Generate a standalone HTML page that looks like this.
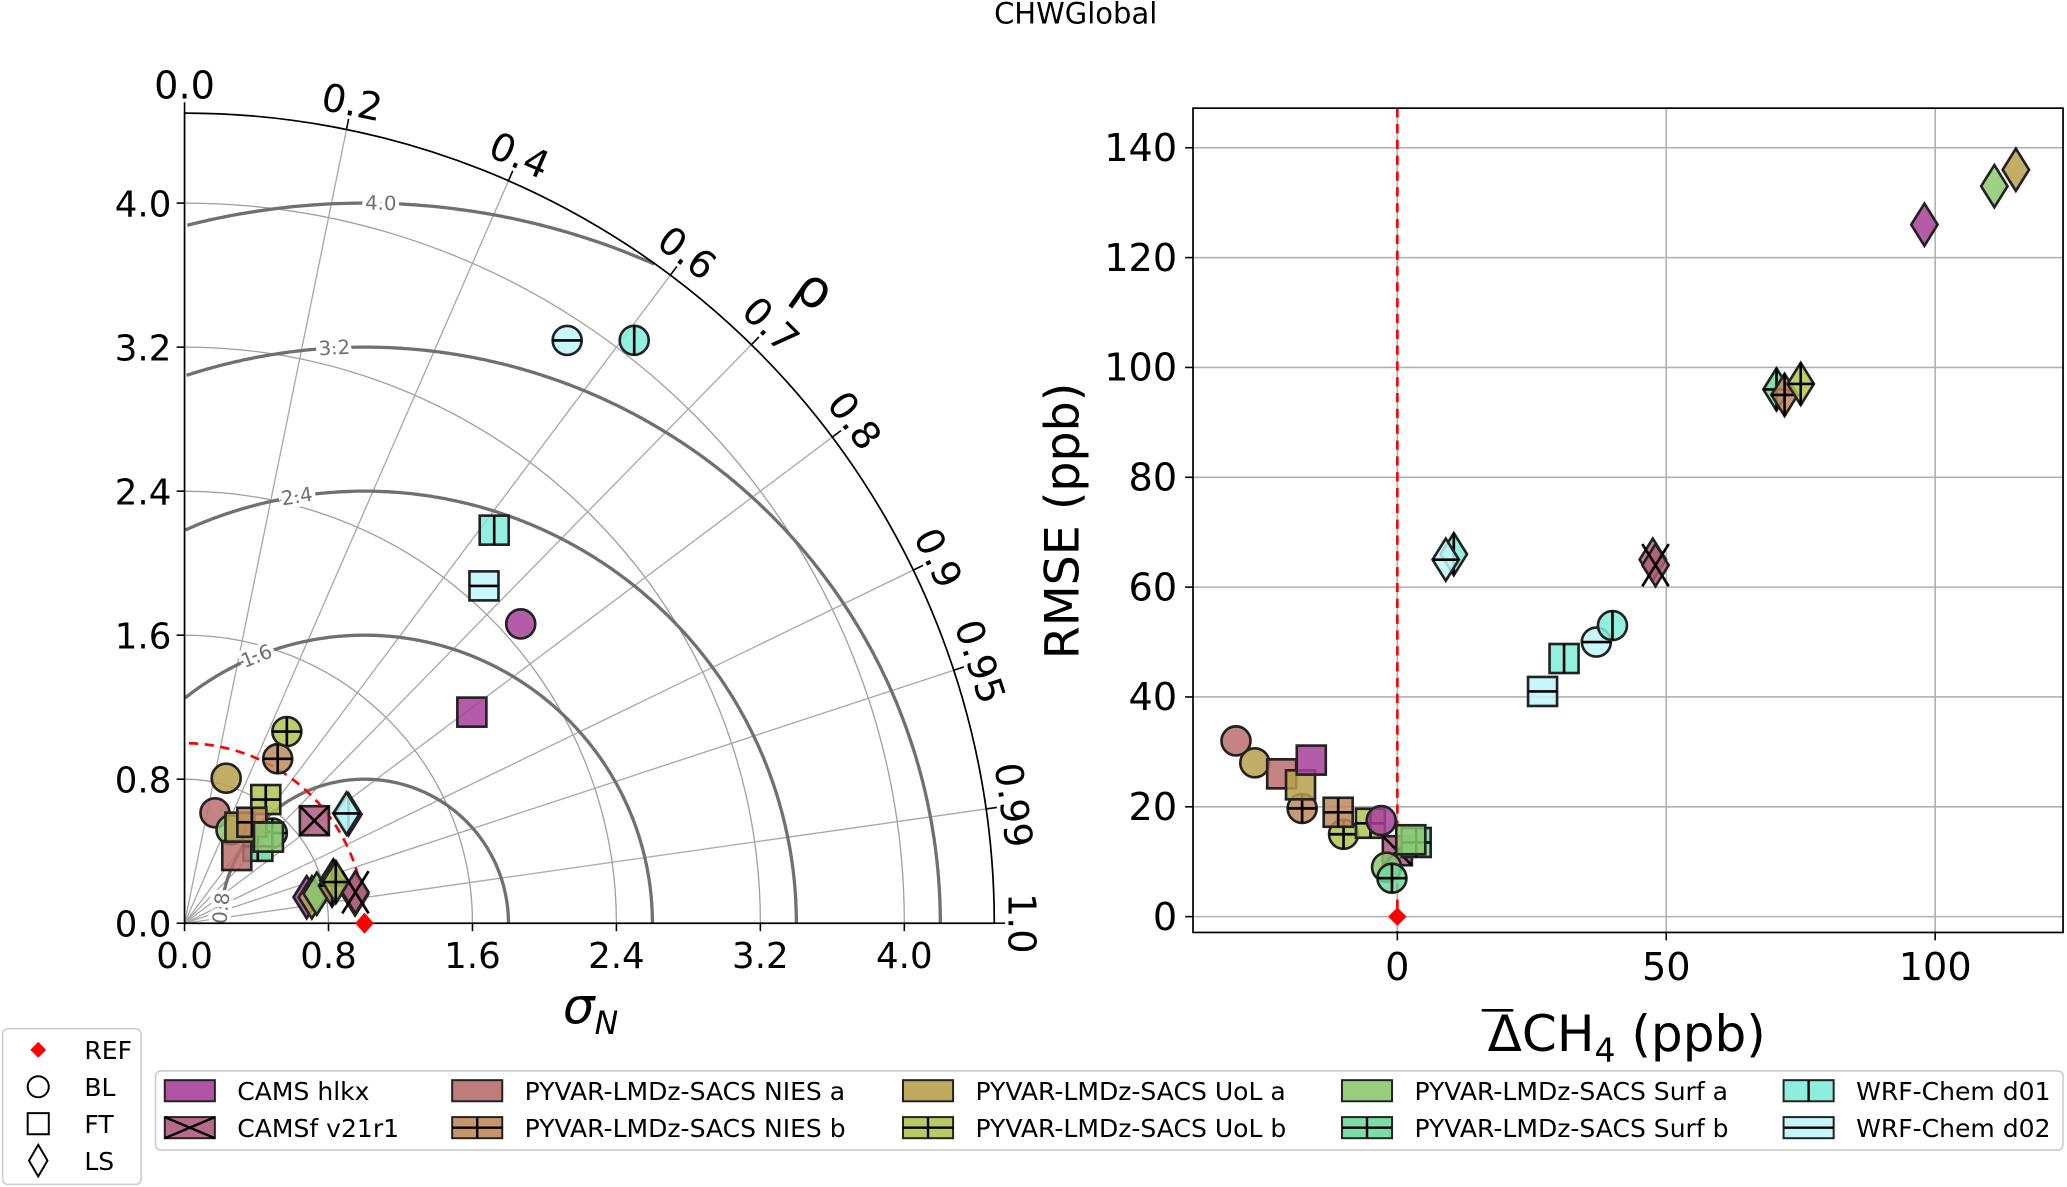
<!DOCTYPE html>
<html><head><meta charset="utf-8"><title>CHWGlobal</title>
<style>
html,body{margin:0;padding:0;background:#fff;}
svg{display:block;font-family:"DejaVu Sans","Liberation Sans",sans-serif;}
</style></head>
<body>
<svg id="fig" width="2067" height="1187" viewBox="0 0 1568 900" preserveAspectRatio="none" xmlns="http://www.w3.org/2000/svg">
<text x="816" y="18" font-size="22" text-anchor="middle">CHWGlobal</text>
<g id="taylor"></g>
<g id="scatter"></g>
<g id="legend"></g>
</svg>
<script>
// ---- data ----
const modelNames = ["CAMS hlkx","CAMSf v21r1","PYVAR-LMDz-SACS NIES a","PYVAR-LMDz-SACS NIES b","PYVAR-LMDz-SACS UoL a","PYVAR-LMDz-SACS UoL b","PYVAR-LMDz-SACS Surf a","PYVAR-LMDz-SACS Surf b","WRF-Chem d01","WRF-Chem d02"];
const modelColors = ["#a8409a","#b05a80","#b86e6c","#c08a5c","#b8a04e","#b0c450","#8dc870","#6ed89c","#80ecd8","#c0f4fa"];
const modelHatch = ["","x","","+","","+","","+","|","-"];
const pointModel = [5,3,4,5,2,1,8,6,7,7,2,4,3,6,0,4,6,7,3,5,2,1,9,9,8,8,9,0,0];
const pointType  = ["BL","BL","BL","FT","BL","FT","LS","BL","BL","FT","FT","FT","FT","FT","LS","LS","LS","LS","LS","LS","LS","LS","LS","BL","BL","FT","FT","BL","FT"];
const sigmaN = [1.207,1.050,0.838,0.822,0.636,0.919,1.093,0.580,0.699,0.590,0.475,0.616,0.674,0.668,0.694,0.722,0.753,0.860,0.846,0.871,0.961,0.965,1.087,3.873,4.090,2.780,2.506,2.501,1.981];
const rhoVals = [0.471,0.493,0.276,0.549,0.266,0.785,0.833,0.445,0.698,0.690,0.611,0.500,0.555,0.698,0.978,0.980,0.976,0.961,0.969,0.965,0.986,0.984,0.828,0.549,0.611,0.619,0.664,0.747,0.806];
const biasVals = [-10,-17.7,-26.5,-5,-30,0,10.5,-2,-1,3.5,-21.5,-18,-11,2.5,98,115,111,70.5,72,75,47.5,48,9,37,40,31,27,-3,-16];
const rmseVals = [15,19.7,28,17,32,12,66,9,7,13.5,26,24,19,14,126,136,133,96,95,97,65,64,65,50,53,47,41,17.5,28.5];
const stdTicks = [0,0.8,1.6,2.4,3.2,4.0];
const corrTicks = [0.0,0.2,0.4,0.6,0.7,0.8,0.9,0.95,0.99,1.0];
const rmsdLevels = [0.8,1.6,2.4,3.2,4.0];
const xTicksR = [0,50,100];
const yTicksR = [0,20,40,60,80,100,120,140];

const NS="http://www.w3.org/2000/svg";
function mk(parent,tag,attrs,txt){const e=document.createElementNS(NS,tag);for(const k in attrs)e.setAttribute(k,attrs[k]);if(txt!==undefined)e.textContent=txt;parent.appendChild(e);return e;}

const OX=140, OY=700, PU=136.5, RMAX=4.5;
const tX=(x)=>OX+x*PU, tY=(y)=>OY-y*PU;
const T=document.getElementById('taylor');

stdTicks.slice(1).forEach(s=>{
  const p=mk(T,'path',{d:`M${tX(s)},${OY} A${s*PU},${s*PU} 0 0 0 ${OX},${tY(s)}`,fill:'none',stroke:'#a0a0a0','stroke-width':1});
  
  
});
corrTicks.forEach(c=>{
  const th=Math.acos(c);
  const ex=Math.cos(th)*RMAX, ey=Math.sin(th)*RMAX;
  if(c>0&&c<1){
    const l=mk(T,'line',{x1:OX,y1:OY,x2:tX(ex),y2:tY(ey),stroke:'#a8a8a8','stroke-width':1});
    
    
  }
  const tk=mk(T,'line',{x1:tX(ex),y1:tY(ey),x2:tX(Math.cos(th)*(RMAX+0.06)),y2:tY(Math.sin(th)*(RMAX+0.06)),stroke:'#000','stroke-width':1.2});
  
  
  const rl=RMAX+0.08;
  const lx=tX(Math.cos(th)*rl), ly=tY(Math.sin(th)*rl);
  const rot=90-th*180/Math.PI;
  const t=mk(T,'text',{x:lx,y:ly,'font-size':29,'text-anchor':'middle','transform':`rotate(${rot} ${lx} ${ly})`},String(c.toFixed(c===0.95||c===0.99?2:1)));
  
  
});
rmsdLevels.forEach((r,i)=>{
  let d='',pen=false;
  for(let k=0;k<=720;k++){
    const a=Math.PI*k/720;
    const x=1+r*Math.cos(a), y=r*Math.sin(a);
    const ok = x>=0 && Math.hypot(x,y)<=RMAX;
    if(ok){d+=(pen?'L':'M')+tX(x).toFixed(1)+','+tY(y).toFixed(1);pen=true;} else pen=false;
  }
  const p=mk(T,'path',{d:d,fill:'none',stroke:'#707070','stroke-width':2.5});
  
  
  const angs=[174,112,99,93,88.7];
  const a=angs[i]*Math.PI/180;
  const lx=tX(1+r*Math.cos(a)), ly=tY(r*Math.sin(a));
  const rot=-(angs[i]-90);
  const t=mk(T,'text',{x:lx,y:ly+5,'font-size':15,fill:'#707070','text-anchor':'middle',stroke:'#fff','stroke-width':6,'paint-order':'stroke','transform':`rotate(${rot} ${lx} ${ly})`},r.toFixed(1));
  
  
});
const ra=mk(T,'path',{d:`M${tX(1)},${OY} A${PU},${PU} 0 0 0 ${OX},${tY(1)}`,fill:'none',stroke:'#ff0000','stroke-width':2,'stroke-dasharray':'7,5'});


const oa=mk(T,'path',{d:`M${tX(RMAX)},${OY} A${RMAX*PU},${RMAX*PU} 0 0 0 ${OX},${tY(RMAX)}`,fill:'none',stroke:'#000','stroke-width':1.3});


const ax1=mk(T,'line',{x1:OX,y1:OY,x2:OX,y2:tY(RMAX),stroke:'#000','stroke-width':1.3});


const ax2=mk(T,'line',{x1:OX,y1:OY,x2:tX(RMAX),y2:OY,stroke:'#000','stroke-width':1.3});


stdTicks.forEach(s=>{
  const a=mk(T,'line',{x1:OX,y1:tY(s),x2:OX-6,y2:tY(s),stroke:'#000','stroke-width':1.2});
  
  
  const b=mk(T,'text',{x:OX-10,y:tY(s)+10,'font-size':27,'text-anchor':'end'},s.toFixed(1));
  
  
  const c=mk(T,'line',{x1:tX(s),y1:OY,x2:tX(s),y2:OY+6,stroke:'#000','stroke-width':1.2});
  
  
  const e=mk(T,'text',{x:tX(s),y:OY+34,'font-size':27,'text-anchor':'middle'},s.toFixed(1));
  
  
});
const sl=mk(T,'text',{x:448,y:776,'font-size':38,'font-style':'italic','text-anchor':'middle'},'σ');


mk(sl,'tspan',{'font-size':24,dy:8},'N');
const rl=mk(T,'text',{x:616,y:232,'font-size':40,'text-anchor':'middle',transform:'rotate(35 616 222)'},'ρ');



function marker(parent,type,cx,cy,color,hatch,name){
  const g=mk(parent,'g',{});
  
  
  let hw,hh;
  if(type==='BL'){hw=11;hh=11;mk(g,'circle',{cx:cx,cy:cy,r:11,fill:color,'fill-opacity':0.85,stroke:'#222','stroke-width':2});}
  else if(type==='FT'){hw=11;hh=11;mk(g,'rect',{x:cx-11,y:cy-11,width:22,height:22,fill:color,'fill-opacity':0.85,stroke:'#222','stroke-width':2});}
  else {hw=10;hh=16;mk(g,'path',{d:`M${cx},${cy-hh} L${cx+hw},${cy} L${cx},${cy+hh} L${cx-hw},${cy} Z`,fill:color,'fill-opacity':0.85,stroke:'#222','stroke-width':2});}
  const st={stroke:'#000','stroke-width':2};
  if(hatch==='+'||hatch==='|') mk(g,'line',Object.assign({x1:cx,y1:cy-hh,x2:cx,y2:cy+hh},st));
  if(hatch==='+'||hatch==='-') mk(g,'line',Object.assign({x1:cx-hw,y1:cy,x2:cx+hw,y2:cy},st));
  if(hatch==='x'){mk(g,'line',Object.assign({x1:cx-hw,y1:cy-hh,x2:cx+hw,y2:cy+hh},st));mk(g,'line',Object.assign({x1:cx-hw,y1:cy+hh,x2:cx+hw,y2:cy-hh},st));}
  return g;
}
sigmaN.forEach((s,i)=>{
  const r=rhoVals[i], m=pointModel[i];
  marker(T,pointType[i],tX(s*r),tY(s*Math.sqrt(1-r*r)),modelColors[m],modelHatch[m],'taylor-point');
});
const ref=mk(T,'path',{d:`M${tX(1)},${OY-8} L${tX(1)+7},${OY} L${tX(1)},${OY+8} L${tX(1)-7},${OY} Z`,fill:'#ff0000'});



const S=document.getElementById('scatter');
const L=905,R=1565,TOP=82,BOT=707;
const sx=(v)=>1060+v*4.08, sy=(v)=>695-v*4.164;
xTicksR.forEach(v=>{
  const g=mk(S,'line',{x1:sx(v),y1:TOP,x2:sx(v),y2:BOT,stroke:'#b0b0b0','stroke-width':1.2});
  
  
  const t=mk(S,'line',{x1:sx(v),y1:BOT,x2:sx(v),y2:BOT+6,stroke:'#000','stroke-width':1.2});
  
  
  const l=mk(S,'text',{x:sx(v),y:BOT+36,'font-size':29,'text-anchor':'middle'},String(v));
  
  
});
yTicksR.forEach(v=>{
  const g=mk(S,'line',{x1:L,y1:sy(v),x2:R,y2:sy(v),stroke:'#b0b0b0','stroke-width':1.2});
  
  
  const t=mk(S,'line',{x1:L,y1:sy(v),x2:L-6,y2:sy(v),stroke:'#000','stroke-width':1.2});
  
  
  const l=mk(S,'text',{x:L-12,y:sy(v)+10,'font-size':29,'text-anchor':'end'},String(v));
  
  
});
const zl=mk(S,'line',{x1:sx(0),y1:TOP,x2:sx(0),y2:BOT,stroke:'#ff0000','stroke-width':2,'stroke-dasharray':'7,5'});


biasVals.forEach((b,i)=>{
  const m=pointModel[i];
  marker(S,pointType[i],sx(b),sy(rmseVals[i]),modelColors[m],modelHatch[m],'scatter-point');
});
const r2=mk(S,'path',{d:`M${sx(0)},${sy(0)-7} L${sx(0)+7},${sy(0)} L${sx(0)},${sy(0)+7} L${sx(0)-7},${sy(0)} Z`,fill:'#ff0000'});


const fr=mk(S,'rect',{x:L,y:TOP,width:R-L,height:BOT-TOP,fill:'none',stroke:'#000','stroke-width':1.3});


const yt=mk(S,'text',{x:818,y:395,'font-size':36,'text-anchor':'middle',transform:'rotate(-90 818 395)'},'RMSE (ppb)');


const xt=mk(S,'text',{x:1234,y:797,'font-size':38,'text-anchor':'middle'},'');


mk(xt,'tspan',{},'ΔCH');mk(xt,'tspan',{'font-size':25,dy:8},'4');mk(xt,'tspan',{dy:-8},' (ppb)');
const ob=mk(S,'line',{x1:1124,y1:766,x2:1148,y2:766,stroke:'#000','stroke-width':2});



const G=document.getElementById('legend');
const lb=mk(G,'rect',{x:118,y:812,width:1447,height:60,rx:4,fill:'#fff',stroke:'#ccc','stroke-width':1.2});


const colX=[125,343,685,1018,1353];
modelNames.forEach((n,i)=>{
  const x=colX[Math.floor(i/2)], y=(i%2===0)?819:847;
  const g=mk(G,'g',{});
  
  
  mk(g,'rect',{x:x,y:y,width:38,height:16,fill:modelColors[i],'fill-opacity':0.9,stroke:'#222','stroke-width':1.5});
  const h=modelHatch[i],st={stroke:'#000','stroke-width':1.8};
  if(h==='+'||h==='|') mk(g,'line',Object.assign({x1:x+19,y1:y,x2:x+19,y2:y+16},st));
  if(h==='+'||h==='-') mk(g,'line',Object.assign({x1:x,y1:y+8,x2:x+38,y2:y+8},st));
  if(h==='x'){mk(g,'line',Object.assign({x1:x,y1:y,x2:x+38,y2:y+16},st));mk(g,'line',Object.assign({x1:x,y1:y+16,x2:x+38,y2:y},st));}
  mk(g,'text',{x:x+55,y:y+15,'font-size':19},n);
});
const lb2=mk(G,'rect',{x:2,y:780,width:105,height:118,rx:4,fill:'#fff',stroke:'#ccc','stroke-width':1.2});


const layerLabels=["REF","BL","FT","LS"];
layerLabels.forEach((n,i)=>{
  const y=796+i*28, cx=29;
  const g=mk(G,'g',{});
  
  
  if(i===0) mk(g,'path',{d:`M${cx},${y-6} L${cx+6},${y} L${cx},${y+6} L${cx-6},${y} Z`,fill:'#ff0000'});
  if(i===1) mk(g,'circle',{cx:cx,cy:y,r:8,fill:'none',stroke:'#000','stroke-width':1.5});
  if(i===2) mk(g,'rect',{x:cx-8,y:y-8,width:16,height:16,fill:'none',stroke:'#000','stroke-width':1.5});
  if(i===3) mk(g,'path',{d:`M${cx},${y-12} L${cx+7},${y} L${cx},${y+12} L${cx-7},${y} Z`,fill:'none',stroke:'#000','stroke-width':1.5});
  mk(g,'text',{x:64,y:y+7,'font-size':19},n);
});
</script>
</body></html>
